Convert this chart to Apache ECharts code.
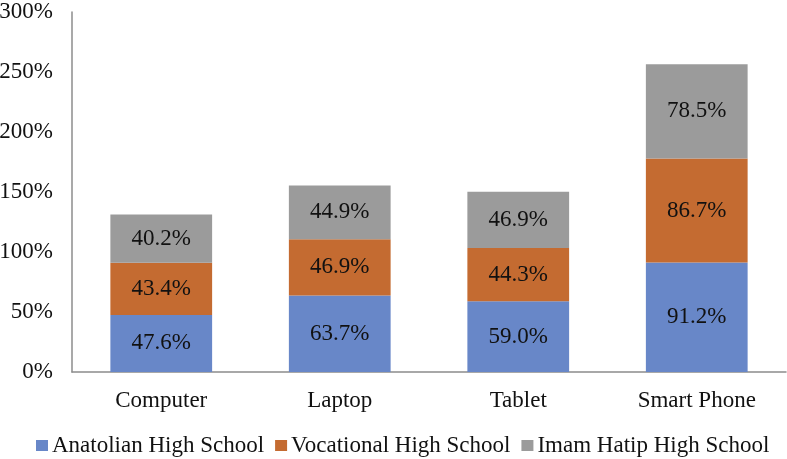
<!DOCTYPE html>
<html><head><meta charset="utf-8">
<script src="https://cdn.jsdelivr.net/npm/echarts@6/dist/echarts.min.js"></script>
<style>html,body{margin:0;padding:0;background:#fff}#c{width:787px;height:459px}</style>
</head><body><div id="c"></div>
<script>
const categories = ['Computer', 'Laptop', 'Tablet', 'Smart Phone'];
const anatolian = [47.6, 63.7, 59.0, 91.2];
const vocational = [43.4, 46.9, 44.3, 86.7];
const imamHatip = [40.2, 44.9, 46.9, 78.5];
const seriesNames = ['Anatolian High School', 'Vocational High School', 'Imam Hatip High School'];
const colors = ['#6887C8', '#C46B31', '#9B9B9B'];
const font = 'Liberation Serif, Times New Roman, serif';
const chart = echarts.init(document.getElementById('c'));
const mk = (name, data, color) => ({
  name, type: 'bar', stack: 'a', data, barWidth: '57%',
  itemStyle: { color },
  label: { show: true, position: 'inside', color: '#111', fontFamily: font, fontSize: 23,
    formatter: p => p.value.toFixed(1) + '%' }
});
chart.setOption({
  animation: false,
  textStyle: { fontFamily: font },
  grid: { left: 72, right: 1, top: 12, bottom: 87, containLabel: false, outerBoundsMode: 'none' },
  legend: { bottom: 2, padding: 0, left: 36, itemWidth: 12, itemHeight: 11, itemGap: 11,
    icon: 'rect', textStyle: { fontFamily: font, fontSize: 23, color: '#111', padding: [0, 0, 0, -1] } },
  xAxis: { type: 'category', data: categories,
    axisLine: { lineStyle: { color: '#8c8c8c', width: 1.5 } }, axisTick: { show: false },
    axisLabel: { fontFamily: font, fontSize: 23, color: '#111', margin: 17 } },
  yAxis: { type: 'value', min: 0, max: 300, interval: 50,
    axisLine: { show: true, lineStyle: { color: '#8c8c8c', width: 1.5 } }, axisTick: { show: false },
    splitLine: { show: false },
    axisLabel: { fontFamily: font, fontSize: 23, color: '#111', margin: 19, formatter: '{value}%' } },
  series: [mk(seriesNames[0], anatolian, colors[0]), mk(seriesNames[1], vocational, colors[1]), mk(seriesNames[2], imamHatip, colors[2])]
});
</script></body></html>
